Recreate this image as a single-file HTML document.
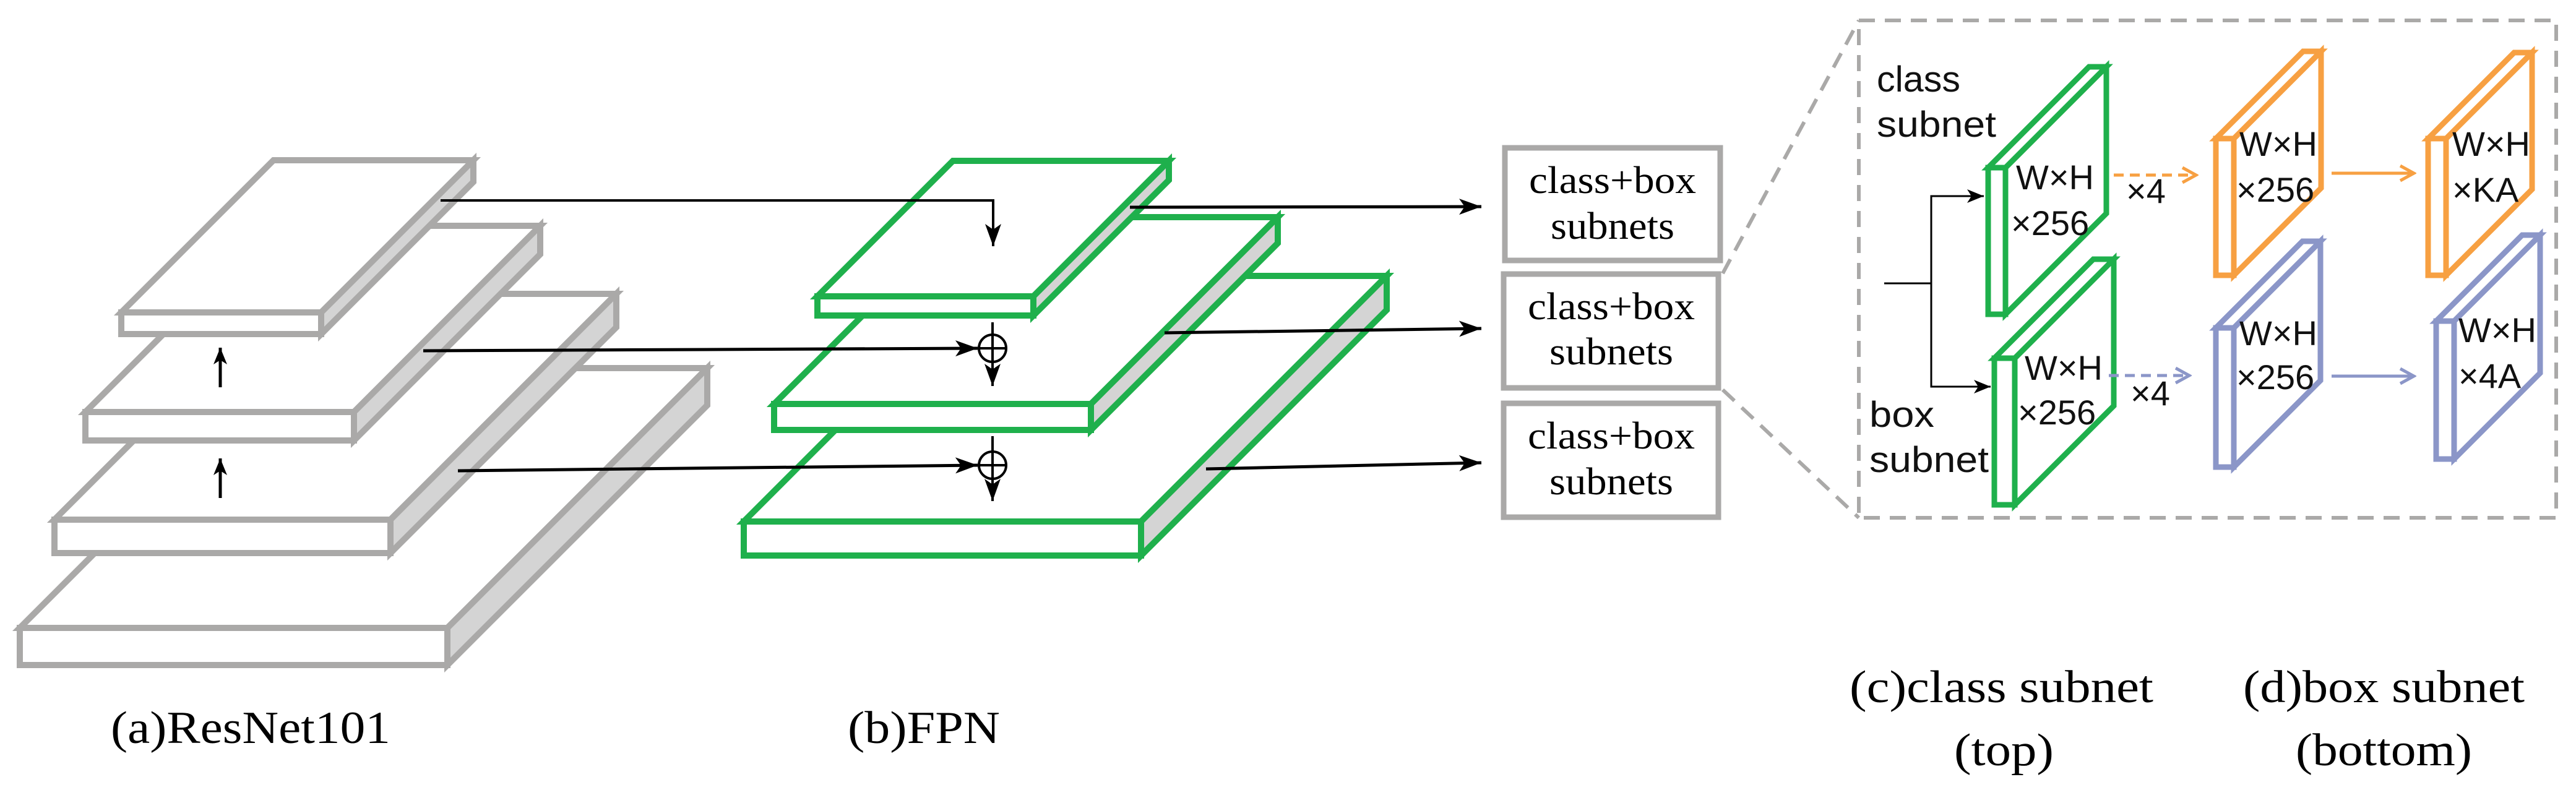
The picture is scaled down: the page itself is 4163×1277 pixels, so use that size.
<!DOCTYPE html>
<html><head><meta charset="utf-8"><style>
html,body{margin:0;padding:0;background:#fff;}
svg{display:block;}
.serif{font-family:"Liberation Serif",serif;fill:#000;}
.sans{font-family:"Liberation Sans","Noto Sans CJK SC",sans-serif;fill:#111;}
</style></head><body>
<svg width="4163" height="1277" viewBox="0 0 4163 1277" xmlns="http://www.w3.org/2000/svg">
<defs>
<marker id="ah" markerUnits="userSpaceOnUse" markerWidth="40" markerHeight="30" refX="36" refY="15" orient="auto"><path d="M0,2 L36,15 L0,28 L9,15 Z" fill="#000"/></marker>
<marker id="ahs" markerUnits="userSpaceOnUse" markerWidth="30" markerHeight="24" refX="27" refY="12" orient="auto"><path d="M0,1 L27,12 L0,23 L7,12 Z" fill="#000"/></marker>
<marker id="ao" markerUnits="userSpaceOnUse" markerWidth="30" markerHeight="30" refX="26" refY="15" orient="auto"><path d="M4,3 L26,15 L4,27" fill="none" stroke="#f7a042" stroke-width="5"/></marker>
<marker id="ab" markerUnits="userSpaceOnUse" markerWidth="30" markerHeight="30" refX="26" refY="15" orient="auto"><path d="M4,3 L26,15 L4,27" fill="none" stroke="#8b96c8" stroke-width="5"/></marker>
</defs>

<!-- ResNet layers (gray) -->
<g stroke="#aaa9a8" stroke-width="10" stroke-linejoin="miter">
<polygon points="32,1015 723,1015 1143,595 452,595" fill="#fff"/>
<polygon points="723,1015 1143,595 1143,655 723,1075" fill="#d4d4d4"/>
<rect x="32" y="1015" width="691" height="60" fill="#fff"/>
<polygon points="88,840 631,840 996,475 453,475" fill="#fff"/>
<polygon points="631,840 996,475 996,529 631,894" fill="#d4d4d4"/>
<rect x="88" y="840" width="543" height="54" fill="#fff"/>
<polygon points="138,666 572,666 873,365 439,365" fill="#fff"/>
<polygon points="572,666 873,365 873,411 572,712" fill="#d4d4d4"/>
<rect x="138" y="666" width="434" height="46" fill="#fff"/>
<polygon points="196,505 519,505 765,259 442,259" fill="#fff"/>
<polygon points="519,505 765,259 765,294 519,540" fill="#d4d4d4"/>
<rect x="196" y="505" width="323" height="35" fill="#fff"/>
</g>
<line x1="356" y1="626" x2="356" y2="562" stroke="#000" stroke-width="5" marker-end="url(#ahs)"/>
<line x1="356" y1="805" x2="356" y2="741" stroke="#000" stroke-width="5" marker-end="url(#ahs)"/>

<!-- FPN layers (green) -->
<g stroke="#1fb04c" stroke-width="10">
<polygon points="1202,843 1844,843 2241,446 1599,446" fill="#fff"/>
<polygon points="1844,843 2241,446 2241,501 1844,898" fill="#d4d4d4"/>
<rect x="1202" y="843" width="642" height="55" fill="#fff"/>
<polygon points="1251,653 1763,653 2065,351 1553,351" fill="#fff"/>
<polygon points="1763,653 2065,351 2065,393 1763,695" fill="#d4d4d4"/>
<rect x="1251" y="653" width="512" height="42" fill="#fff"/>
<polygon points="1321,479 1670,479 1889,260 1540,260" fill="#fff"/>
<polygon points="1670,479 1889,260 1889,291 1670,510" fill="#d4d4d4"/>
<rect x="1321" y="479" width="349" height="31" fill="#fff"/>
</g>

<g stroke="#000" stroke-width="4" fill="none">
<polyline points="712,324 1605,324 1605,398" marker-end="url(#ah)"/>
<line x1="684" y1="567" x2="1580" y2="563" stroke-width="5" marker-end="url(#ah)"/>
<line x1="740" y1="761" x2="1580" y2="752" stroke-width="5" marker-end="url(#ah)"/>
<circle cx="1604" cy="563" r="22"/>
<line x1="1582" y1="563" x2="1626" y2="563"/>
<line x1="1604" y1="521" x2="1604" y2="624" marker-end="url(#ah)"/>
<circle cx="1604" cy="752" r="22"/>
<line x1="1582" y1="752" x2="1626" y2="752"/>
<line x1="1604" y1="705" x2="1604" y2="810" marker-end="url(#ah)"/>
<line x1="1826" y1="335" x2="2394" y2="334" stroke-width="5" marker-end="url(#ah)"/>
<line x1="1882" y1="538" x2="2394" y2="531" stroke-width="5" marker-end="url(#ah)"/>
<line x1="1949" y1="758" x2="2394" y2="748" stroke-width="5" marker-end="url(#ah)"/>
</g>

<g fill="#fff" stroke="#aaa9a8" stroke-width="9">
<rect x="2432" y="239" width="348" height="182"/>
<rect x="2430" y="443" width="347" height="184"/>
<rect x="2430" y="652" width="347" height="184"/>
</g>
<g class="serif" font-size="62" text-anchor="middle">
<text x="2606" y="312" textLength="270" lengthAdjust="spacingAndGlyphs">class+box</text>
<text x="2606" y="386" textLength="200" lengthAdjust="spacingAndGlyphs">subnets</text>
<text x="2604" y="516" textLength="270" lengthAdjust="spacingAndGlyphs">class+box</text>
<text x="2604" y="589" textLength="200" lengthAdjust="spacingAndGlyphs">subnets</text>
<text x="2604" y="725" textLength="270" lengthAdjust="spacingAndGlyphs">class+box</text>
<text x="2604" y="799" textLength="200" lengthAdjust="spacingAndGlyphs">subnets</text>
</g>

<g stroke="#aaa9a8" stroke-width="6" fill="none" stroke-dasharray="26,16">
<line x1="2784" y1="442" x2="3004" y2="33"/>
<line x1="2784" y1="630" x2="3004" y2="837"/>
<rect x="3004" y="33" width="1127" height="804"/>
</g>

<g class="sans" font-size="58">
<text x="3033" y="148" textLength="135" lengthAdjust="spacingAndGlyphs">class</text>
<text x="3033" y="221" textLength="193" lengthAdjust="spacingAndGlyphs">subnet</text>
<text x="3021" y="690" textLength="105" lengthAdjust="spacingAndGlyphs">box</text>
<text x="3021" y="763" textLength="193" lengthAdjust="spacingAndGlyphs">subnet</text>
</g>

<g stroke="#000" stroke-width="3" fill="none">
<polyline points="3045,458 3121,458"/>
<polyline points="3121,458 3121,317 3206,317" marker-end="url(#ahs)"/>
<polyline points="3121,458 3121,625 3217,625" marker-end="url(#ahs)"/>
</g>

<g fill="#fff" stroke-width="9" stroke-linejoin="miter">
<g stroke="#1fb04c">
<polygon points="3241,271 3404,108 3404,345 3241,508"/>
<polygon points="3213,271 3241,271 3404,108 3376,108"/>
<rect x="3213" y="271" width="28" height="237"/>
<polygon points="3256,579 3416,419 3416,656 3256,816"/>
<polygon points="3223,579 3256,579 3416,419 3383,419"/>
<rect x="3223" y="579" width="33" height="237"/>
</g>
<g stroke="#f7a042">
<polygon points="3610,224 3751,83 3751,304 3610,445"/>
<polygon points="3581,224 3610,224 3751,83 3722,83"/>
<rect x="3581" y="224" width="29" height="221"/>
<polygon points="3953,224 4092,85 4092,306 3953,445"/>
<polygon points="3924,224 3953,224 4092,85 4063,85"/>
<rect x="3924" y="224" width="29" height="221"/>
</g>
<g stroke="#8b96c8">
<polygon points="3610,530 3750,390 3750,615 3610,755"/>
<polygon points="3581,530 3610,530 3750,390 3721,390"/>
<rect x="3581" y="530" width="29" height="225"/>
<polygon points="3966,519 4105,380 4105,603 3966,742"/>
<polygon points="3937,519 3966,519 4105,380 4076,380"/>
<rect x="3937" y="519" width="29" height="223"/>
</g>
</g>

<g class="sans" font-size="56">
<text x="3258" y="306">W×H</text>
<text x="3250" y="380">×256</text>
<text x="3272" y="614">W×H</text>
<text x="3261" y="686">×256</text>
<text x="3619" y="252">W×H</text>
<text x="3614" y="326">×256</text>
<text x="3963" y="252">W×H</text>
<text x="3963" y="326">×KA</text>
<text x="3619" y="558">W×H</text>
<text x="3614" y="629">×256</text>
<text x="3973" y="553">W×H</text>
<text x="3973" y="627">×4A</text>
<text x="3436" y="328">×4</text>
<text x="3443" y="655">×4</text>
</g>

<line x1="3416" y1="283" x2="3549" y2="283" stroke="#f7a042" stroke-width="5" stroke-dasharray="16,10" marker-end="url(#ao)"/>
<line x1="3768" y1="280" x2="3901" y2="280" stroke="#f7a042" stroke-width="5" marker-end="url(#ao)"/>
<line x1="3408" y1="607" x2="3538" y2="607" stroke="#8b96c8" stroke-width="5" stroke-dasharray="16,10" marker-end="url(#ab)"/>
<line x1="3768" y1="608" x2="3901" y2="608" stroke="#8b96c8" stroke-width="5" marker-end="url(#ab)"/>

<g class="serif" font-size="74">
<text x="179" y="1201" textLength="452" lengthAdjust="spacingAndGlyphs">(a)ResNet101</text>
<text x="1370" y="1201" textLength="246" lengthAdjust="spacingAndGlyphs">(b)FPN</text>
<text x="2989" y="1135" textLength="491" lengthAdjust="spacingAndGlyphs">(c)class subnet</text>
<text x="3158" y="1237" textLength="161" lengthAdjust="spacingAndGlyphs">(top)</text>
<text x="3625" y="1135" textLength="455" lengthAdjust="spacingAndGlyphs">(d)box subnet</text>
<text x="3710" y="1237" textLength="285" lengthAdjust="spacingAndGlyphs">(bottom)</text>
</g>
</svg>
</body></html>
